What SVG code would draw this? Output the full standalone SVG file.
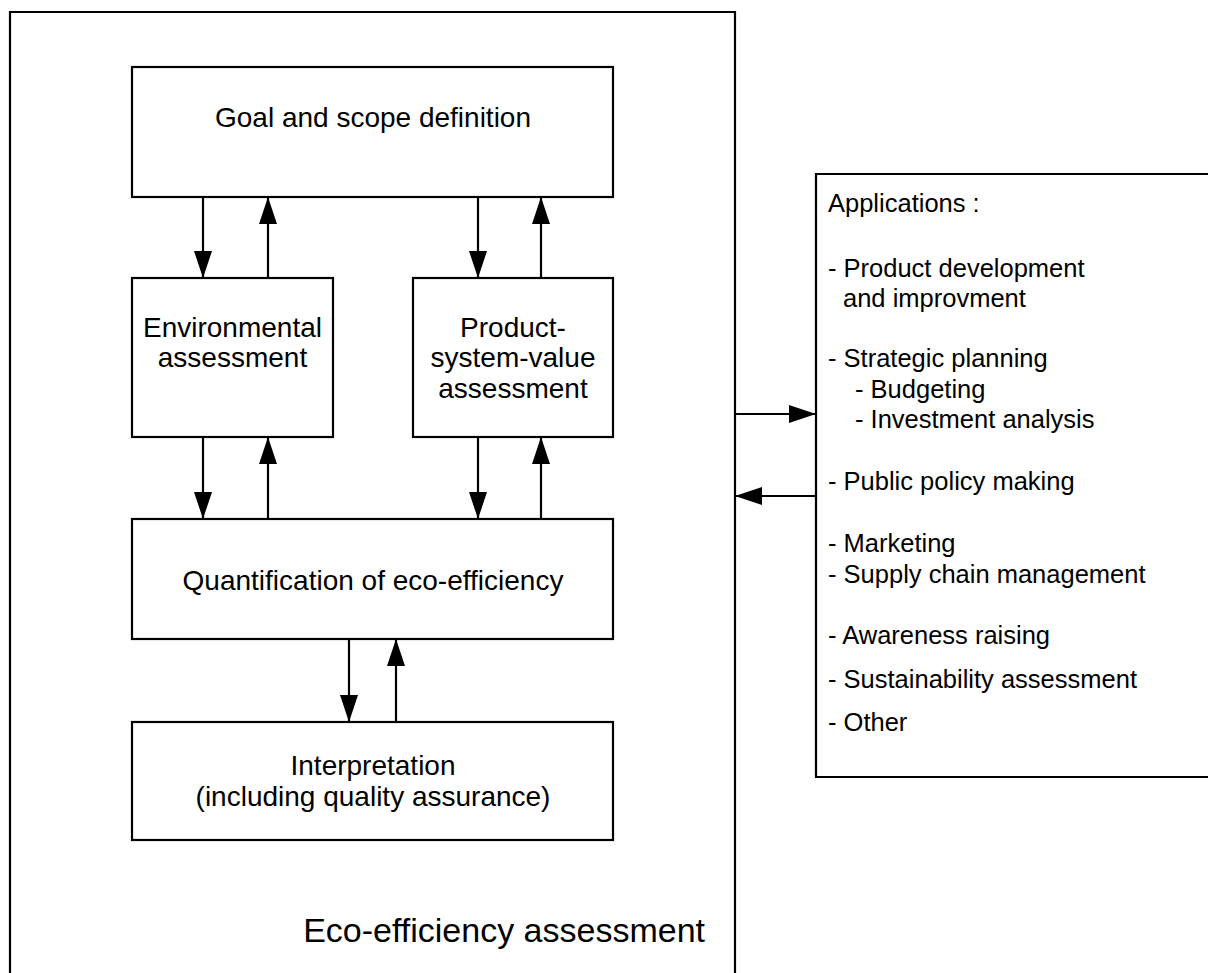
<svg xmlns="http://www.w3.org/2000/svg" width="1208" height="973" viewBox="0 0 1208 973">
<style>
.box{fill:#fff;stroke:#000;stroke-width:2.2}
.frame{fill:none;stroke:#000;stroke-width:2.2}
.t{font-family:"Liberation Sans",Arial,sans-serif;font-size:28px;fill:#000;text-anchor:middle}
.l{font-family:"Liberation Sans",Arial,sans-serif;font-size:25.5px;fill:#000}
.c{stroke:#000;stroke-width:2.2;fill:none;marker-end:url(#ah)}
</style>
<defs>
<marker id="ah" markerUnits="userSpaceOnUse" markerWidth="27" markerHeight="18" refX="27" refY="9" orient="auto">
<path d="M0,0 L27,9 L0,18 Z" fill="#000"/>
</marker>
</defs>
<g id="eco-frame">
<path class="frame" d="M10,980 V12 H735 V980"/>
<text x="705" y="942" style="font-family:'Liberation Sans',Arial,sans-serif;font-size:34px;text-anchor:end">Eco-efficiency assessment</text>
</g>
<g id="goal">
<rect class="box" x="132" y="67" width="481" height="130"/>
<text class="t" x="373" y="127">Goal and scope definition</text>
</g>
<g id="env">
<rect class="box" x="132" y="278" width="201" height="159"/>
<text class="t" x="232.5" y="337">Environmental</text>
<text class="t" x="232.5" y="367">assessment</text>
</g>
<g id="psv">
<rect class="box" x="413" y="278" width="200" height="159"/>
<text class="t" x="513" y="337">Product-</text>
<text class="t" x="513" y="367">system-value</text>
<text class="t" x="513" y="398">assessment</text>
</g>
<g id="quant">
<rect class="box" x="132" y="519" width="481" height="120"/>
<text class="t" x="373" y="590">Quantification of eco-efficiency</text>
</g>
<g id="interp">
<rect class="box" x="132" y="722" width="481" height="118"/>
<text class="t" x="373" y="775">Interpretation</text>
<text class="t" x="373" y="806">(including quality assurance)</text>
</g>
<g id="applications">
<path class="frame" d="M1212,174 H816 V777 H1212"/>
<text class="l" x="828" y="212">Applications :</text>
<text class="l" x="828" y="277">- Product development</text>
<text class="l" x="843" y="307">and improvment</text>
<text class="l" x="828" y="367">- Strategic planning</text>
<text class="l" x="855" y="398">- Budgeting</text>
<text class="l" x="855" y="428">- Investment analysis</text>
<text class="l" x="828" y="490">- Public policy making</text>
<text class="l" x="828" y="552">- Marketing</text>
<text class="l" x="828" y="583">- Supply chain management</text>
<text class="l" x="828" y="644">- Awareness raising</text>
<text class="l" x="828" y="688">- Sustainability assessment</text>
<text class="l" x="828" y="731">- Other</text>
</g>
<g id="connectors">
<line class="c" x1="203" y1="197" x2="203" y2="278"/>
<line class="c" x1="268" y1="278" x2="268" y2="197"/>
<line class="c" x1="478" y1="197" x2="478" y2="278"/>
<line class="c" x1="541" y1="278" x2="541" y2="197"/>
<line class="c" x1="203" y1="437" x2="203" y2="519"/>
<line class="c" x1="268" y1="519" x2="268" y2="437"/>
<line class="c" x1="478" y1="437" x2="478" y2="519"/>
<line class="c" x1="541" y1="519" x2="541" y2="437"/>
<line class="c" x1="349" y1="639" x2="349" y2="722"/>
<line class="c" x1="396" y1="722" x2="396" y2="639"/>
<line class="c" x1="735" y1="414" x2="816" y2="414"/>
<line class="c" x1="816" y1="496" x2="735" y2="496"/>
</g>
</svg>
